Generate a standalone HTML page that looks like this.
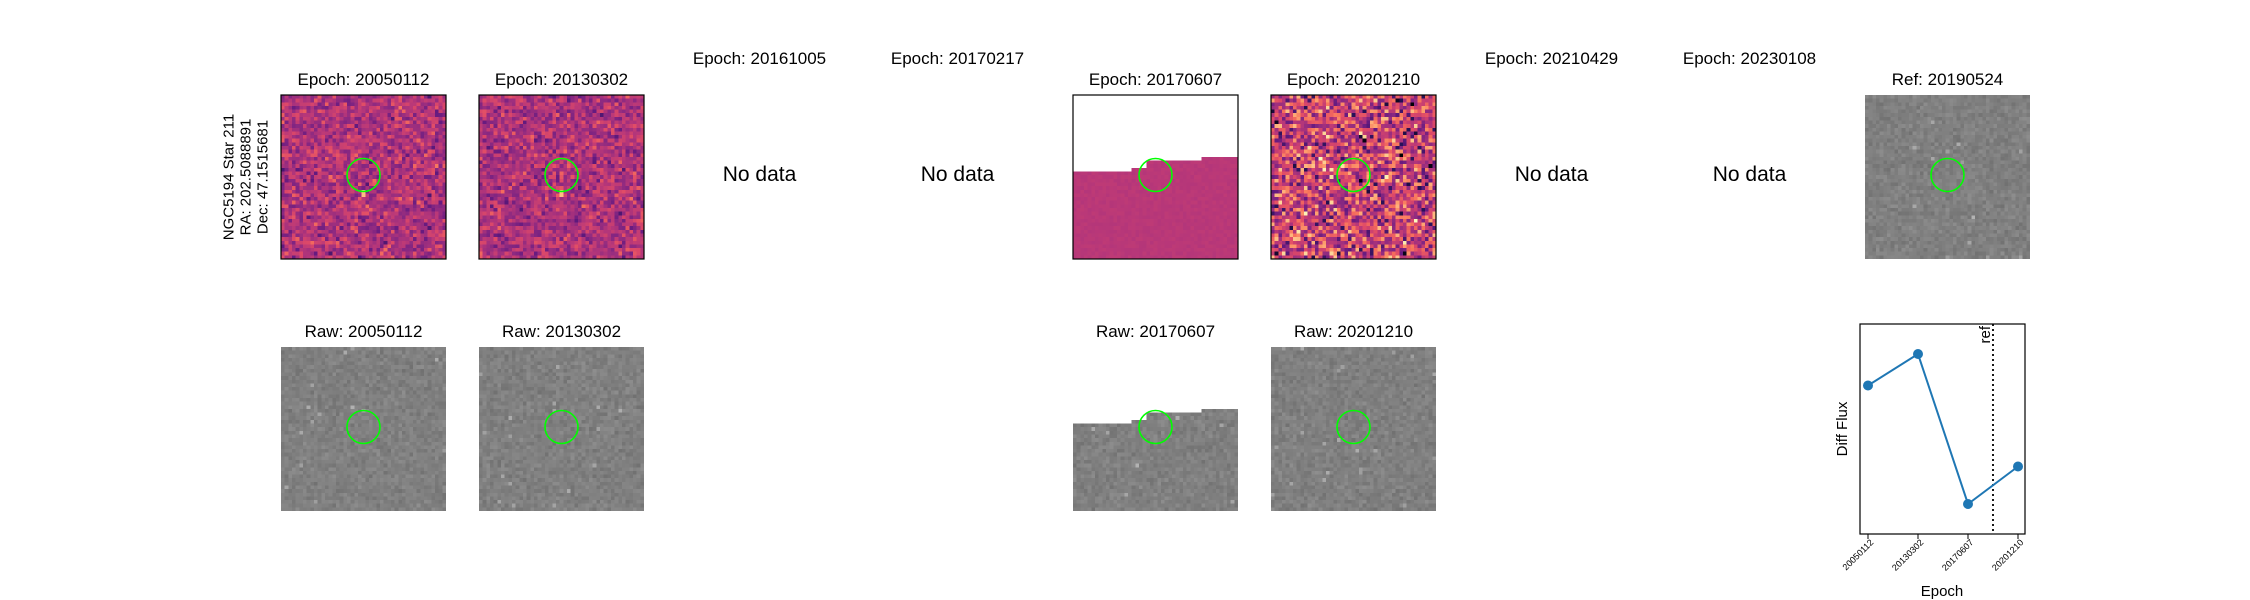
<!DOCTYPE html>
<html><head><meta charset="utf-8"><style>
body{margin:0;background:#fff;width:2250px;height:600px;overflow:hidden;font-family:"Liberation Sans","DejaVu Sans",sans-serif}
#root{position:relative;width:2250px;height:600px}
.t{position:absolute;font-size:17px;color:#000;white-space:nowrap;transform:translate(-50%,-50%)}
.nd{position:absolute;font-size:21px;transform:translate(-50%,-50%);white-space:nowrap}
canvas{position:absolute;image-rendering:pixelated}
svg{position:absolute;left:0;top:0}
</style></head><body><div id="root">
<div class="t" style="left:246px;top:177px;transform:translate(-50%,-50%) rotate(-90deg);text-align:center;font-size:15px;line-height:17px">NGC5194 Star 211<br>RA: 202.5088891<br>Dec: 47.1515681</div>
</div>
<script>
const root=document.getElementById('root');
const epochs=['20050112','20130302','20161005','20170217','20170607','20201210','20210429','20230108'];
const hasData=[true,true,false,false,true,true,false,false];
const refEpoch='20190524';
const plotEpochs=['20050112','20130302','20170607','20201210'];
const diffFlux=[0.79,1.0,0.0,0.25];
const refPos=2.5;
const colX=[281,479,677,875,1073,1271,1469,1667,1865];
const PW=165,R1=95,R2=347;
function rng(s){return function(){s=(s*1664525+1013904223)>>>0;return s/4294967296;}}
const magma=[[0,0,4],[40,17,89],[101,26,128],[140,41,129],[183,55,121],[222,73,104],[247,112,92],[254,159,109],[253,206,145],[252,253,191]];
function mag(t){t=Math.max(0,Math.min(1,t))*9;const i=Math.floor(Math.min(t,8.999)),f=t-i;const a=magma[i],b=magma[i+1];return `rgb(${a.map((v,k)=>Math.round(v+(b[k]-v)*f)).join(',')})`;}
function panel(x,y,kind,seed,name,edge){
 const c=document.createElement('canvas');c.width=45;c.height=45;
 c.style.left=x+'px';c.style.top=y+'px';c.style.width=PW+'px';c.style.height=(PW-1)+'px';
 
 
 const g=c.getContext('2d'),r=rng(seed);
 for(let j=0;j<45;j++)for(let i=0;i<45;i++){
  if(edge){const e=i<16?21:(i<20?19.5:(i<35?18:16.5));if(j<e){continue;}}
  let v;
  if(kind==='diff'){v=0.42+(r()+r()+r()-1.5)*0.18;}
  else if(kind==='diffwide'){v=0.5+(r()+r()+r()-1.5)*0.38;}
  else if(kind==='flat'){v=0.45+(r()-0.5)*0.03;}
  else{v=0.5+(r()+r()-1)*0.06;if(r()<0.008)v+=0.15;}
  g.fillStyle=kind==='gray'?`rgb(${Math.round(v*255)},${Math.round(v*255)},${Math.round(v*255)})`:mag(v);
  g.fillRect(i,j,1,1);
 }
 if(kind==='diff'){g.fillStyle=mag(0.85);g.fillRect(22,26,1,2);}
 root.appendChild(c);
}
function title(txt,x,y,name,cls){const d=document.createElement('div');d.className=cls||'t';d.textContent=txt;d.style.left=x+'px';d.style.top=y+'px';
 
 
 root.appendChild(d);}
const NS='http://www.w3.org/2000/svg';
const svg=document.createElementNS(NS,'svg');svg.setAttribute('width',2250);svg.setAttribute('height',600);


function el(tag,attrs,name){const e=document.createElementNS(NS,tag);for(const k in attrs)e.setAttribute(k,attrs[k]);
 
 
 svg.appendChild(e);return e;}
function circ(x,y,name){el('circle',{cx:x+PW/2,cy:y+80,r:16.5,fill:'none',stroke:'#00ff00','stroke-width':1.6},name);}
epochs.forEach((ep,i)=>{
 const x=colX[i];
 if(hasData[i]){
  title('Epoch: '+ep,x+PW/2,80,'epoch-title-'+ep);
  const kind=ep==='20201210'?'diffwide':(ep==='20170607'?'flat':'diff');
  panel(x,R1,kind,i*97+11,'diff-image-'+ep,ep==='20170607');
  el('rect',{x:x,y:R1,width:PW,height:PW-1,fill:'none',stroke:'#000','stroke-width':1.2},'diff-frame-'+ep);
  circ(x,R1,'diff-aperture-'+ep);
  title('Raw: '+ep,x+PW/2,332,'raw-title-'+ep);
  panel(x,R2,'gray',i*53+7,'raw-image-'+ep,ep==='20170607');
  circ(x,R2,'raw-aperture-'+ep);
 } else {
  title('Epoch: '+ep,x+PW/2,59,'epoch-title-'+ep);
  title('No data',x+PW/2,175,'no-data-'+ep,'nd');
 }
});
title('Ref: '+refEpoch,colX[8]+PW/2,80,'ref-title');
panel(colX[8],R1,'gray',999,'ref-image',false);
circ(colX[8],R1,'ref-aperture');
const ax={l:1860,r:2025,t:324,b:534};
const xs=i=>1868+i*50;
const ys=v=>504-150*v;
el('rect',{x:ax.l,y:ax.t,width:ax.r-ax.l,height:ax.b-ax.t,fill:'none',stroke:'#000','stroke-width':1.2},'lightcurve-axes');
el('line',{x1:xs(refPos),x2:xs(refPos),y1:ax.t,y2:ax.b,stroke:'#000','stroke-width':1.8,'stroke-dasharray':'2,3'},'ref-line');
const rt=el('text',{x:0,y:0,'font-size':15,'text-anchor':'end',transform:`translate(${xs(refPos)-3},${ax.t+2}) rotate(-90)`},'ref-label');rt.textContent='ref';
el('polyline',{points:diffFlux.map((v,i)=>xs(i)+','+ys(v)).join(' '),fill:'none',stroke:'#1f77b4','stroke-width':2},'flux-line');
diffFlux.forEach((v,i)=>{el('circle',{cx:xs(i),cy:ys(v),r:5,fill:'#1f77b4'},'flux-point-'+plotEpochs[i]);
 el('line',{x1:xs(i),x2:xs(i),y1:ax.b,y2:ax.b+5,stroke:'#000','stroke-width':1},'x-tick-'+plotEpochs[i]);
 const t=el('text',{x:0,y:0,'font-size':9,'text-anchor':'end',transform:`translate(${xs(i)+6},${ax.b+9}) rotate(-45)`},'x-tick-label-'+plotEpochs[i]);t.textContent=plotEpochs[i];});
const xl=el('text',{x:1942,y:596,'font-size':15,'text-anchor':'middle'},'x-axis-title');xl.textContent='Epoch';
const yl=el('text',{x:0,y:0,'font-size':15,'text-anchor':'middle',transform:'translate(1847,429) rotate(-90)'},'y-axis-title');yl.textContent='Diff Flux';
root.appendChild(svg);
</script></body></html>
